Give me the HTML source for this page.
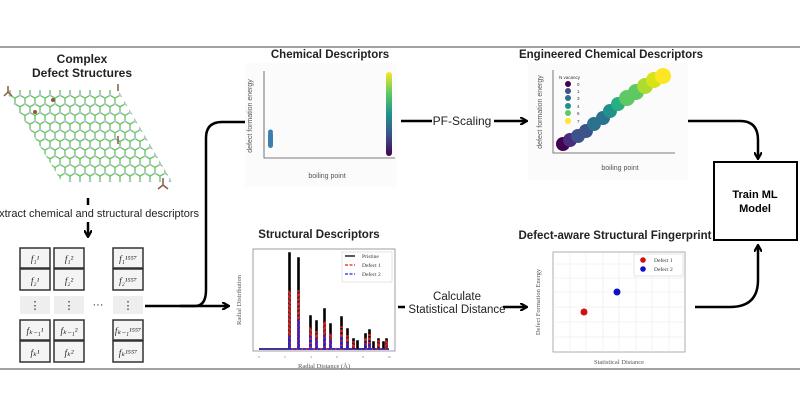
<!DOCTYPE html>
<html><head><meta charset="utf-8"><style>
html,body{margin:0;padding:0;background:#fff}
svg{display:block;font-family:"Liberation Sans",sans-serif}
.ser{font-family:"Liberation Serif",serif}
</style></head><body>
<svg width="800" height="419" viewBox="0 0 800 419" xmlns="http://www.w3.org/2000/svg">
<defs>
<pattern id="hex" width="10" height="17.32" patternUnits="userSpaceOnUse">
<path d="M0,2.89L5,0L10,2.89M0,2.89V8.66M10,2.89V8.66M0,8.66L5,11.55L10,8.66M5,11.55V17.32" stroke="#63c05c" stroke-width="1.3" fill="none"/>
<circle cx="5" cy="0" r="1.3" fill="#b9bde6"/><circle cx="0" cy="8.66" r="1.3" fill="#b9bde6"/><circle cx="10" cy="8.66" r="1.3" fill="#b9bde6"/><circle cx="5" cy="17.32" r="1.3" fill="#b9bde6"/>
</pattern>
<clipPath id="para"><polygon points="5,90 118,90 172,182 62,182"/></clipPath>
<linearGradient id="vir" x1="0" y1="1" x2="0" y2="0">
<stop offset="0" stop-color="#440154"/><stop offset="0.25" stop-color="#3b528b"/><stop offset="0.5" stop-color="#21918c"/><stop offset="0.75" stop-color="#5ec962"/><stop offset="1" stop-color="#fde725"/>
</linearGradient>
<marker id="ah" markerWidth="8" markerHeight="8" refX="6" refY="4" orient="auto" markerUnits="userSpaceOnUse"><path d="M0,0L7,4L0,8" fill="none" stroke="#000" stroke-width="2.2"/></marker>
</defs>
<line x1="0" y1="47" x2="800" y2="47" stroke="#444" stroke-width="1"/>
<line x1="0" y1="369" x2="800" y2="369" stroke="#444" stroke-width="1"/>

<text x="82" y="63" text-anchor="middle" font-size="12" font-weight="bold" fill="#222">Complex</text>
<text x="82" y="77" text-anchor="middle" font-size="12" font-weight="bold" fill="#222">Defect Structures</text>
<rect x="0" y="85" width="180" height="100" fill="url(#hex)" clip-path="url(#para)"/>
<circle cx="53" cy="100" r="2" fill="#8b5a3c"/><circle cx="35" cy="112" r="2" fill="#8b5a3c"/>
<path d="M8,92l-4,4M8,92l4,4M8,92v-6" stroke="#8b5a3c" stroke-width="1.5"/>
<path d="M118,91v-7M163,185l5,4M163,185l-5,4M163,185v-7" stroke="#8b5a3c" stroke-width="1.5"/>
<path d="M118,144v-8" stroke="#8b5a3c" stroke-width="1.5"/>
<text x="96" y="217" text-anchor="middle" font-size="11" fill="#222">extract chemical and structural descriptors</text>
<line x1="88" y1="198" x2="88" y2="205" stroke="#000" stroke-width="2.5"/>
<line x1="88" y1="222" x2="88" y2="236" stroke="#000" stroke-width="2.5" marker-end="url(#ah)"/>

<g stroke="#333" stroke-width="1.5" fill="#f4f4f4">
<rect x="20" y="248" width="30" height="20"/><rect x="20" y="269" width="30" height="21"/><rect x="20" y="320" width="30" height="20"/><rect x="20" y="341" width="30" height="21"/>
<rect x="54" y="248" width="30" height="20"/><rect x="54" y="269" width="30" height="21"/><rect x="54" y="320" width="30" height="20"/><rect x="54" y="341" width="30" height="21"/>
<rect x="113" y="248" width="30" height="20"/><rect x="113" y="269" width="30" height="21"/><rect x="113" y="320" width="30" height="20"/><rect x="113" y="341" width="30" height="21"/>
</g>
<g fill="#eee"><rect x="20" y="296" width="30" height="18"/><rect x="54" y="296" width="30" height="18"/><rect x="113" y="296" width="30" height="18"/></g>
<g class="ser" font-size="9" font-style="italic" fill="#222" text-anchor="middle">
<text x="35" y="262">f₁¹</text><text x="69" y="262">f₁²</text><text x="128" y="262">f₁¹⁵⁵⁷</text>
<text x="35" y="284">f₂¹</text><text x="69" y="284">f₂²</text><text x="128" y="284">f₂¹⁵⁵⁷</text>
<text x="35" y="334">fₖ₋₁¹</text><text x="69" y="334">fₖ₋₁²</text><text x="128" y="334">fₖ₋₁¹⁵⁵⁷</text>
<text x="35" y="356">fₖ¹</text><text x="69" y="356">fₖ²</text><text x="128" y="356">fₖ¹⁵⁵⁷</text>
</g>
<g font-size="11" text-anchor="middle" fill="#222"><text x="35" y="309">⋮</text><text x="69" y="309">⋮</text><text x="128" y="309">⋮</text><text x="98" y="308">···</text></g>

<path d="M145,306 H228" stroke="#000" stroke-width="2.5" fill="none" marker-end="url(#ah)"/>
<path d="M180,306 H195 Q206,306 206,290 V138 Q206,122 222,122 H256" stroke="#000" stroke-width="2.5" fill="none" marker-end="url(#ah)"/>

<text x="330" y="58" text-anchor="middle" font-size="11.5" font-weight="bold" fill="#222">Chemical Descriptors</text>
<rect x="245" y="63" width="152" height="124" fill="#fbfbfb"/>
<path d="M264,71 V158 H395" stroke="#555" stroke-width="0.8" fill="none"/>
<text transform="translate(252,116) rotate(-90)" text-anchor="middle" font-size="7" fill="#555">defect formation energy</text>
<text x="327" y="178" text-anchor="middle" font-size="7" fill="#555">boiling point</text>
<rect x="268" y="132" width="5" height="16" rx="2.5" fill="#3b7fb0"/><circle cx="270.5" cy="132" r="2.5" fill="#3b7fb0"/>
<rect x="386" y="72" width="6" height="84" rx="3" fill="url(#vir)"/>

<text x="462" y="125" text-anchor="middle" font-size="12" fill="#222">PF-Scaling</text>
<line x1="401" y1="121" x2="432" y2="121" stroke="#000" stroke-width="2.5"/>
<line x1="494" y1="121" x2="526" y2="121" stroke="#000" stroke-width="2.5" marker-end="url(#ah)"/>

<text x="611" y="58" text-anchor="middle" font-size="11.5" font-weight="bold" fill="#222">Engineered Chemical Descriptors</text>
<rect x="528" y="63" width="160" height="117" fill="#fbfbfb"/>
<path d="M553,70 V153 H675" stroke="#555" stroke-width="0.8" fill="none"/>
<text transform="translate(542,112) rotate(-90)" text-anchor="middle" font-size="7" fill="#555">defect formation energy</text>
<text x="620" y="170" text-anchor="middle" font-size="7" fill="#555">boiling point</text>
<g>
<circle cx="563" cy="144" r="7" fill="#440154"/><circle cx="570" cy="140" r="7" fill="#472d7b"/>
<circle cx="578" cy="136" r="7" fill="#3b528b"/><circle cx="586" cy="131" r="7" fill="#3b528b"/>
<circle cx="594" cy="124" r="7" fill="#2c728e"/><circle cx="603" cy="118" r="7" fill="#2c728e"/>
<circle cx="610" cy="111" r="7" fill="#21918c"/><circle cx="618" cy="104" r="7" fill="#28ae80"/>
<circle cx="627" cy="98" r="8" fill="#5ec962"/><circle cx="636" cy="92" r="8" fill="#5ec962"/>
<circle cx="645" cy="86" r="8" fill="#addc30"/><circle cx="654" cy="80" r="8" fill="#d8e219"/>
<circle cx="663" cy="76" r="8" fill="#fde725"/>
</g>
<text x="559" y="79" font-size="4.5" fill="#333">N vacancy</text>
<g font-size="4.5" fill="#333">
<circle cx="568" cy="84" r="3" fill="#440154"/><text x="577" y="86">0</text>
<circle cx="568" cy="91" r="3" fill="#3b528b"/><text x="577" y="93">1</text>
<circle cx="568" cy="98" r="3" fill="#2c728e"/><text x="577" y="100">3</text>
<circle cx="568" cy="106" r="3" fill="#21918c"/><text x="577" y="108">4</text>
<circle cx="568" cy="113" r="3" fill="#5ec962"/><text x="577" y="115">6</text>
<circle cx="568" cy="121" r="3" fill="#fde725"/><text x="577" y="123">7</text>
</g>
<path d="M688,121 H740 Q758,121 758,140 V158" stroke="#000" stroke-width="2.5" fill="none" marker-end="url(#ah)"/>

<rect x="714" y="162" width="83" height="78" fill="#fff" stroke="#000" stroke-width="2"/>
<text x="755" y="198" text-anchor="middle" font-size="11" font-weight="bold">Train ML</text>
<text x="755" y="212" text-anchor="middle" font-size="11" font-weight="bold">Model</text>

<text x="319" y="238" text-anchor="middle" font-size="11.5" font-weight="bold" fill="#222">Structural Descriptors</text>
<rect x="253" y="249" width="142" height="102" fill="#fff" stroke="#888" stroke-width="0.8"/>
<text transform="translate(241,300) rotate(-90)" text-anchor="middle" font-size="6.5" class="ser" fill="#555">Radial Distribution</text>
<text x="324" y="368" text-anchor="middle" font-size="6.5" class="ser" fill="#555">Radial Distance (Å)</text>
<g font-size="3.5" fill="#777" class="ser" text-anchor="middle">
<text x="259" y="358">0</text><text x="285" y="358">2</text><text x="311" y="358">4</text><text x="337" y="358">6</text><text x="363" y="358">8</text><text x="389" y="358">10</text>
</g>
<g stroke-width="1.6" fill="none">
<path d="M259,349H289V253H290V349H298V258H299V349H310V316H311V349H316V321H317V349H324V309H325V349H330V324H331V349H341V317H342V349H347V329H348V349H353V339H354V349H357V341H358V349H365V334H366V349H369V330H370V349H373V342H374V349H378V339H379V349H383V342H384V349H386V339H387V349H389" stroke="#000"/>
<path d="M259,349H289V291H290V349H298V291H299V349H310V328H311V349H316V332H317V349H324V322H325V349H330V334H331V349H341V327H342V349H347V336H348V349H353V342H354V349H365V338H366V349H369V335H370V349H378V341H379V349H386V341H387V349H389" stroke="#e02020" stroke-dasharray="3,1.5"/>
<path d="M259,349H289V337H290V349H298V320H299V349H310V337H311V349H316V339H317V349H324V336H325V349H330V340H331V349H341V337H342V349H347V343H348V349H365V344H366V349H369V343H370V349H389" stroke="#2020e0" stroke-dasharray="3,1.5"/>
</g>
<rect x="342" y="252" width="50" height="30" fill="#fff" stroke="#ccc" stroke-width="0.5"/>
<g font-size="5.5" class="ser" fill="#333">
<line x1="345" y1="256" x2="355" y2="256" stroke="#000" stroke-width="1.3"/><text x="362" y="258">Pristine</text>
<line x1="345" y1="265" x2="355" y2="265" stroke="#e02020" stroke-width="1.3" stroke-dasharray="3,1.5"/><text x="362" y="267">Defect 1</text>
<line x1="345" y1="274" x2="355" y2="274" stroke="#2020e0" stroke-width="1.3" stroke-dasharray="3,1.5"/><text x="362" y="276">Defect 2</text>
</g>

<text x="457" y="300" text-anchor="middle" font-size="11.5" fill="#222">Calculate</text>
<text x="457" y="313" text-anchor="middle" font-size="11.5" fill="#222">Statistical Distance</text>
<line x1="398" y1="307" x2="405" y2="307" stroke="#000" stroke-width="2.5"/>
<line x1="503" y1="307" x2="526" y2="307" stroke="#000" stroke-width="2.5" marker-end="url(#ah)"/>

<text x="615" y="239" text-anchor="middle" font-size="11.5" font-weight="bold" fill="#222">Defect-aware Structural Fingerprint</text>
<rect x="553" y="252" width="132" height="100" fill="#fff" stroke="#999" stroke-width="0.8"/>
<g stroke="#e6e6e6" stroke-width="0.5">
<line x1="570" y1="252" x2="570" y2="352"/><line x1="586" y1="252" x2="586" y2="352"/><line x1="603" y1="252" x2="603" y2="352"/><line x1="619" y1="252" x2="619" y2="352"/><line x1="636" y1="252" x2="636" y2="352"/><line x1="652" y1="252" x2="652" y2="352"/><line x1="669" y1="252" x2="669" y2="352"/>
<line x1="553" y1="264" x2="685" y2="264"/><line x1="553" y1="278" x2="685" y2="278"/><line x1="553" y1="292" x2="685" y2="292"/><line x1="553" y1="307" x2="685" y2="307"/><line x1="553" y1="322" x2="685" y2="322"/><line x1="553" y1="337" x2="685" y2="337"/>
</g>
<text transform="translate(540,302) rotate(-90)" text-anchor="middle" font-size="6.5" class="ser" fill="#555">Defect Formation Energy</text>
<text x="619" y="364" text-anchor="middle" font-size="6.5" class="ser" fill="#555">Statistical Distance</text>
<circle cx="584" cy="312" r="3.5" fill="#d01010"/>
<circle cx="617" cy="292" r="3.5" fill="#1010c8"/>
<rect x="634" y="254" width="49" height="22" fill="#fff" stroke="#ccc" stroke-width="0.5"/>
<g font-size="5.5" class="ser" fill="#333">
<circle cx="643" cy="260" r="2.8" fill="#d01010"/><text x="654" y="262">Defect 1</text>
<circle cx="643" cy="269" r="2.8" fill="#1010c8"/><text x="654" y="271">Defect 2</text>
</g>
<path d="M695,307 H730 Q758,307 758,280 V246" stroke="#000" stroke-width="2.5" fill="none" marker-end="url(#ah)"/>
</svg>
</body></html>
